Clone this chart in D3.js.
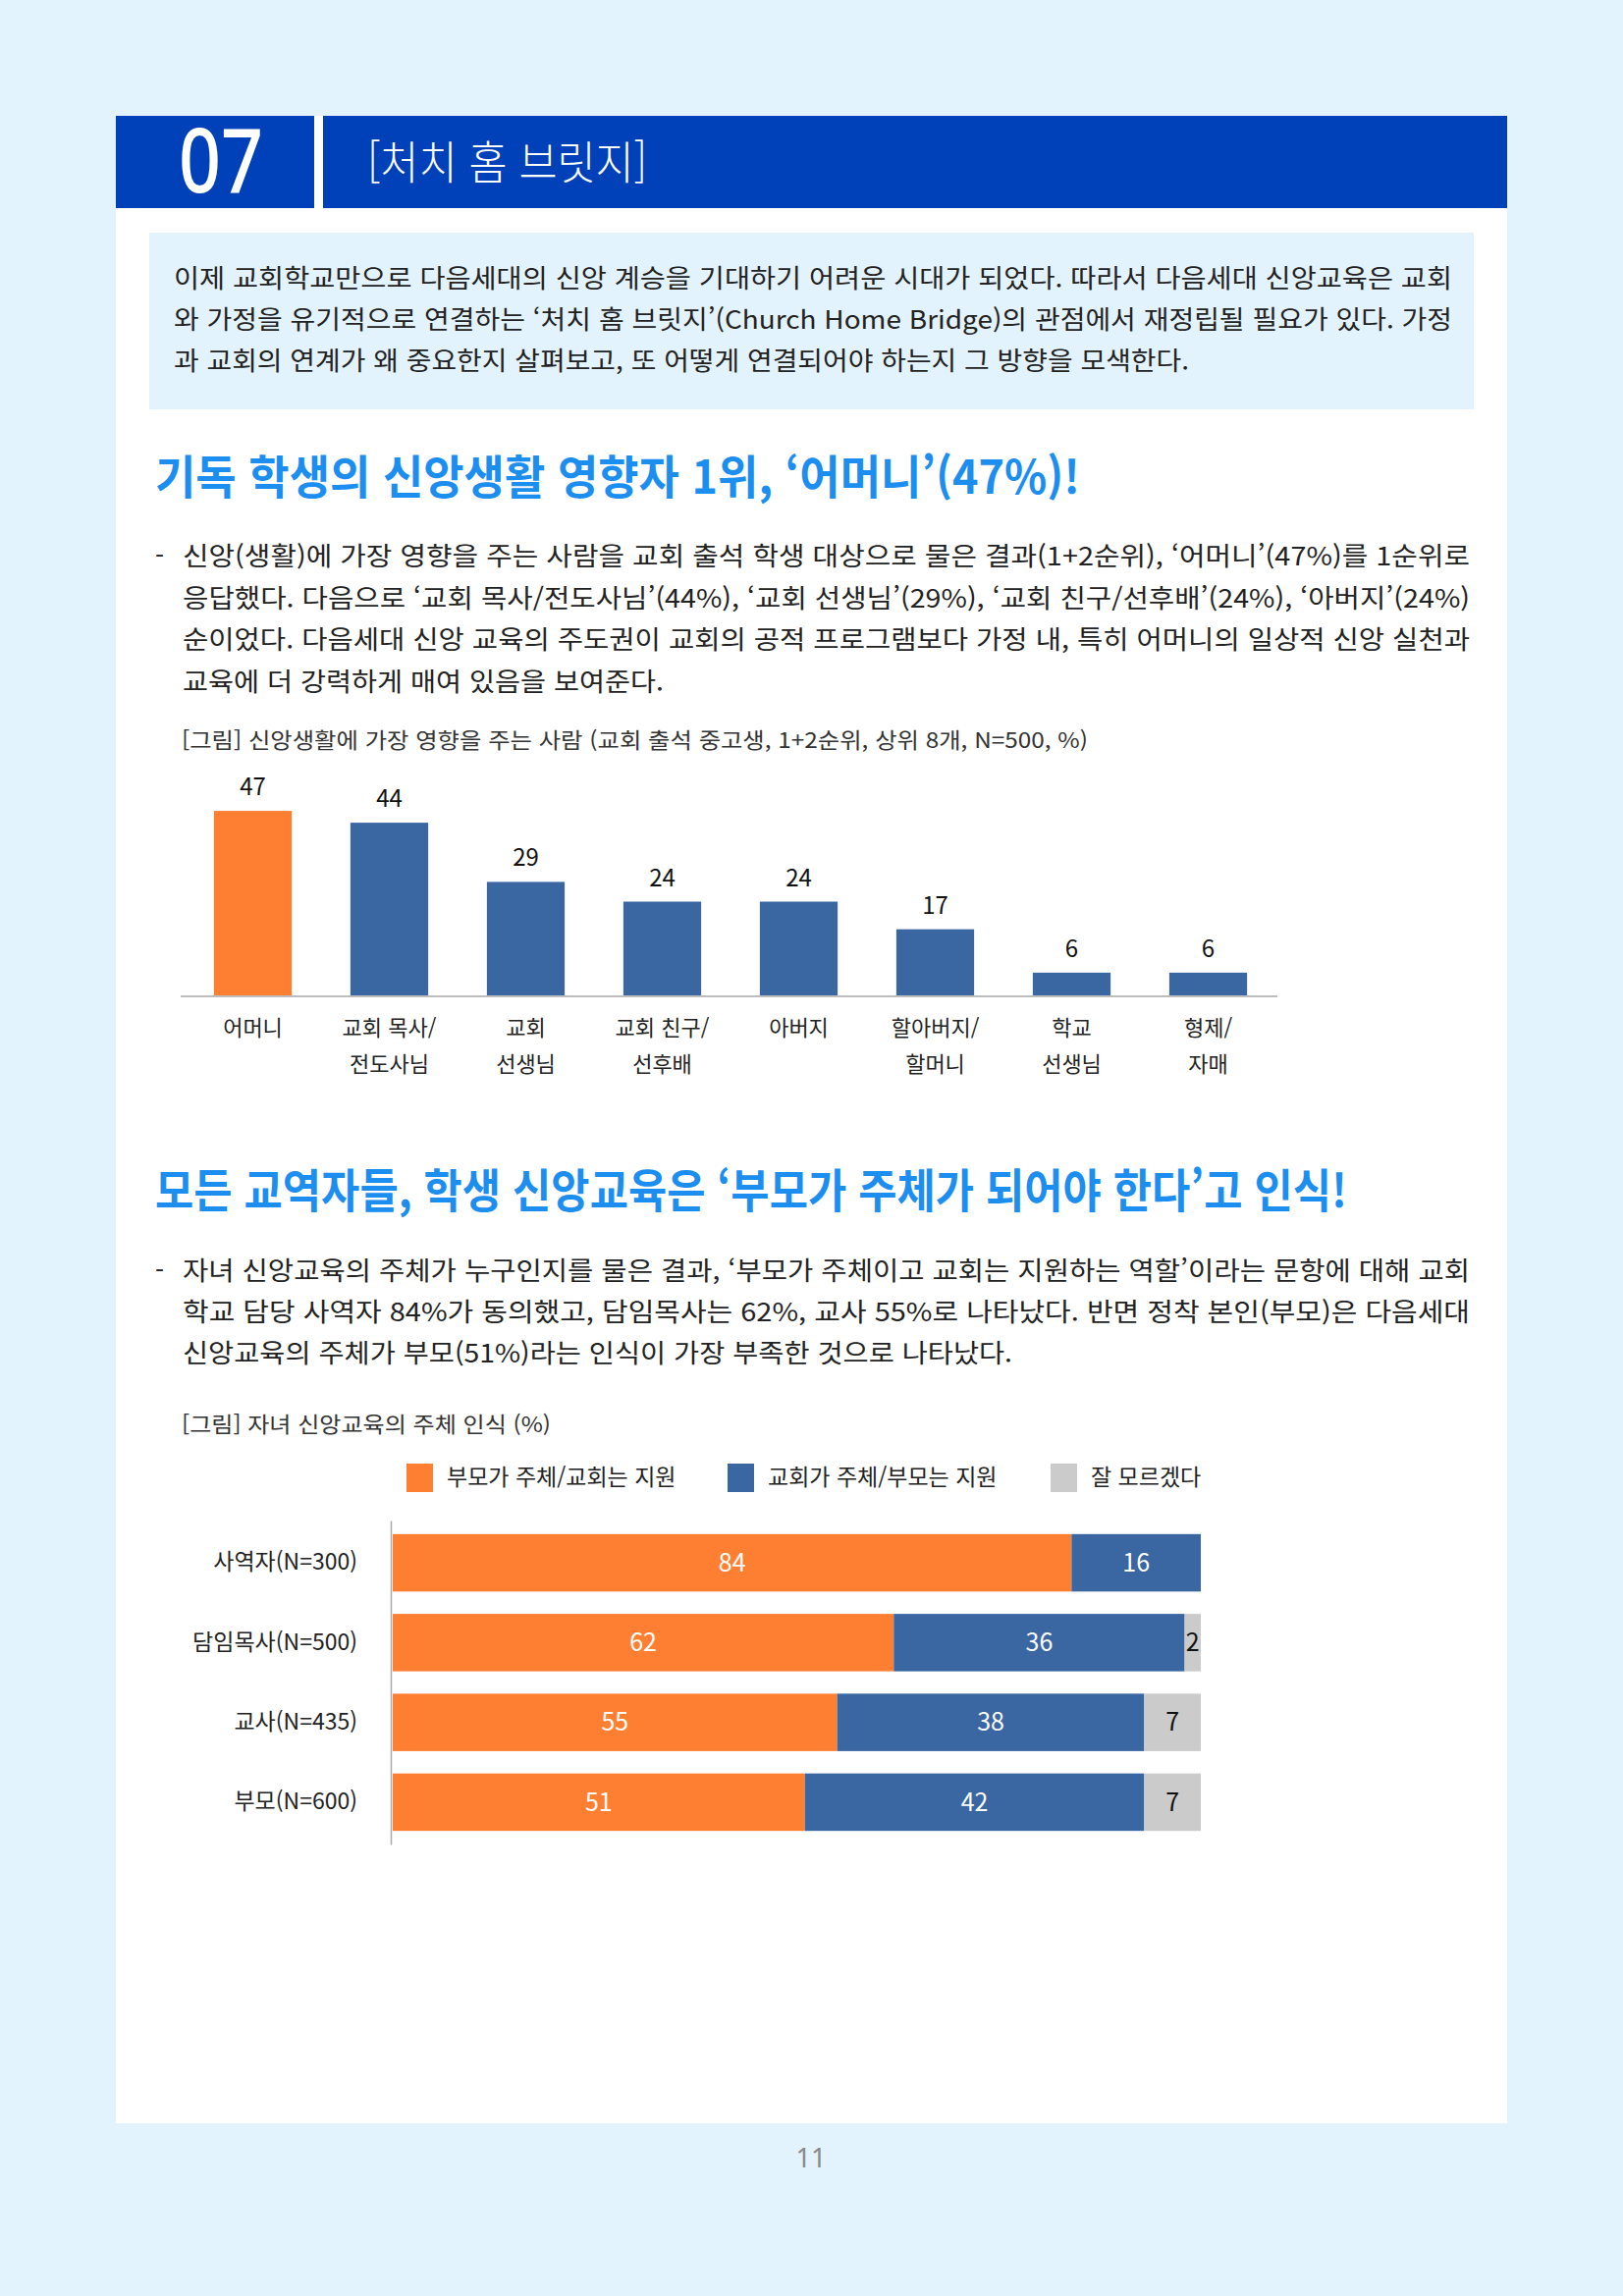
<!DOCTYPE html>
<html lang="ko">
<head>
<meta charset="utf-8">
<script src="https://cdn.jsdelivr.net/npm/d3@7"></script>
<style>
  body { margin: 0; background: #e3f3fd; }
  svg { display: block; font-family: "Noto Sans CJK KR", "Noto Sans", sans-serif; }
</style>
</head>
<body>
<div id="page"></div>
<script>
// chart 1: who influences students' faith life most (1+2 rank, %)
const influencers = ["어머니", "교회 목사/|전도사님", "교회|선생님", "교회 친구/|선후배", "아버지", "할아버지/|할머니", "학교|선생님", "형제/|자매"];
const influenceValues = [47, 44, 29, 24, 24, 17, 6, 6];

// chart 2: who should lead children's faith education (%)
const groups = ["사역자(N=300)", "담임목사(N=500)", "교사(N=435)", "부모(N=600)"];
const seriesNames = ["부모가 주체/교회는 지원", "교회가 주체/부모는 지원", "잘 모르겠다"];
const parentLed = [84, 62, 55, 51];
const churchLed = [16, 36, 38, 42];
const dontKnow = [0, 2, 7, 7];

// page texts
const sectionNo = "07";
const sectionTitle = "[처치 홈 브릿지]";
const introLines = [
    "이제 교회학교만으로 다음세대의 신앙 계승을 기대하기 어려운 시대가 되었다. 따라서 다음세대 신앙교육은 교회",
    "와 가정을 유기적으로 연결하는 ‘처치 홈 브릿지’(Church Home Bridge)의 관점에서 재정립될 필요가 있다. 가정",
    "과 교회의 연계가 왜 중요한지 살펴보고, 또 어떻게 연결되어야 하는지 그 방향을 모색한다."
];
const heading1 = "기독 학생의 신앙생활 영향자 1위, ‘어머니’(47%)!";
const para1Lines = [
    "신앙(생활)에 가장 영향을 주는 사람을 교회 출석 학생 대상으로 물은 결과(1+2순위), ‘어머니’(47%)를 1순위로",
    "응답했다. 다음으로 ‘교회 목사/전도사님’(44%), ‘교회 선생님’(29%), ‘교회 친구/선후배’(24%), ‘아버지’(24%)",
    "순이었다. 다음세대 신앙 교육의 주도권이 교회의 공적 프로그램보다 가정 내, 특히 어머니의 일상적 신앙 실천과",
    "교육에 더 강력하게 매여 있음을 보여준다."
];
const caption1 = "[그림] 신앙생활에 가장 영향을 주는 사람 (교회 출석 중고생, 1+2순위, 상위 8개, N=500, %)";
const heading2 = "모든 교역자들, 학생 신앙교육은 ‘부모가 주체가 되어야 한다’고 인식!";
const para2Lines = [
    "자녀 신앙교육의 주체가 누구인지를 물은 결과, ‘부모가 주체이고 교회는 지원하는 역할’이라는 문항에 대해 교회",
    "학교 담당 사역자 84%가 동의했고, 담임목사는 62%, 교사 55%로 나타났다. 반면 정착 본인(부모)은 다음세대",
    "신앙교육의 주체가 부모(51%)라는 인식이 가장 부족한 것으로 나타났다."
];
const caption2 = "[그림] 자녀 신앙교육의 주체 인식 (%)";
const pageNo = "11";

const width = 1653;
const height = 2339;
const orange = "#ff7f32";
const blue = "#3a66a2";
const grey = "#cbcbcb";
const headBlue = "#1c8eef";

const svg = d3.select("#page")
    .append("svg")
    .attr("width", width)
    .attr("height", height);

//background + white panel
svg.append("rect").attr("width", width).attr("height", height).attr("fill", "#e3f3fd");
svg.append("rect").attr("x", 118).attr("y", 118).attr("width", 1417).attr("height", 2045).attr("fill", "#fff");

// header bar
svg.append("rect").attr("x", 118).attr("y", 118).attr("width", 202).attr("height", 94).attr("fill", "#0040b8");
svg.append("rect").attr("x", 329).attr("y", 118).attr("width", 1206).attr("height", 94).attr("fill", "#0040b8");

// one line of text, squeezed/stretched to a given width when w is set
function line(g, str, x, y, size, opt) {
    opt = opt || {};
    const t = g.append("text")
        .attr("x", x)
        .attr("y", y)
        .attr("font-size", size)
        .attr("font-weight", opt.weight || 400)
        .attr("fill", opt.fill || "#222")
        .attr("text-anchor", opt.anchor || "start")
        .text(str);
    if (opt.w) t.attr("textLength", opt.w).attr("lengthAdjust", "spacingAndGlyphs");
    return t;
}

line(svg, sectionNo, 225, 196, 90, {fill: "#fff", weight: 500, anchor: "middle", w: 86})
    .style("font-family", "'Noto Sans', sans-serif");
line(svg, sectionTitle, 374, 182, 46, {fill: "#fff", weight: 300, w: 285});

// intro box
svg.append("rect").attr("x", 152).attr("y", 237).attr("width", 1349).attr("height", 180).attr("fill", "#e3f3fd");
const introW = [1302, 1302, 1034];
introLines.forEach((s, i) => line(svg, s, 177, 293 + i * 42, 26, {w: introW[i]}));

// section 1 text
line(svg, heading1, 158, 503, 47, {fill: headBlue, weight: 700, w: 942});
line(svg, "-", 158, 576, 26);
const p1W = [1311, 1311, 1311, 490];
para1Lines.forEach((s, i) => line(svg, s, 186, 576 + i * 42.7, 26, {w: p1W[i]}));
line(svg, caption1, 185, 762, 22, {fill: "#333", w: 923});

// ---------- chart 1: vertical bars ----------
const x1 = d3.scaleBand()
    .domain(influencers)
    .range([188, 1300])
    .paddingInner(0.43)
    .paddingOuter(0.215);

const y1 = d3.scaleLinear()
    .domain([0, 50])
    .range([1015, 814]);

const g1 = svg.append("g");

g1.selectAll("rect.bar")
    .data(influenceValues)
    .join("rect")
    .attr("class", "bar")
    .attr("x", (d, i) => x1(influencers[i]))
    .attr("y", d => y1(d))
    .attr("width", x1.bandwidth())
    .attr("height", d => y1(0) - y1(d))
    .attr("fill", (d, i) => i === 0 ? orange : blue);

g1.selectAll("text.val")
    .data(influenceValues)
    .join("text")
    .attr("class", "val")
    .attr("x", (d, i) => x1(influencers[i]) + x1.bandwidth() / 2)
    .attr("y", d => y1(d) - 16)
    .attr("text-anchor", "middle")
    .attr("font-size", 24)
    .attr("fill", "#111")
    .text(d => d);

const ax1 = g1.append("g")
    .attr("transform", "translate(0,1015)")
    .call(d3.axisBottom(x1).tickSize(0).tickSizeOuter(0).tickFormat(""));
ax1.select(".domain").attr("stroke", "#bdbdbd").attr("stroke-width", 2)
    .attr("d", "M184,0H1301");

// two-line category labels
ax1.selectAll(".tick").each(function (d) {
    const t = d3.select(this).select("text")
        .attr("y", 0)
        .attr("dy", null)
        .attr("font-size", 22)
        .attr("fill", "#222")
        .style("font-family", "'Noto Sans CJK KR', sans-serif");
    d.split("|").forEach((part, k) => {
        t.append("tspan").attr("x", 0).attr("y", 40 + k * 37).text(part);
    });
});

// section 2 text
line(svg, heading2, 158, 1230, 47, {fill: headBlue, weight: 700, w: 1214});
line(svg, "-", 158, 1304, 26);
const p2W = [1311, 1311, 845];
para2Lines.forEach((s, i) => line(svg, s, 186, 1304 + i * 42, 26, {w: p2W[i]}));
line(svg, caption2, 185, 1459, 22, {fill: "#333", w: 376});

// ---------- chart 2: stacked horizontal bars ----------
const rows = groups.map((g, i) => ({
    group: g,
    [seriesNames[0]]: parentLed[i],
    [seriesNames[1]]: churchLed[i],
    [seriesNames[2]]: dontKnow[i]
}));
const stacked = d3.stack().keys(seriesNames)(rows);
const colour = d3.scaleOrdinal().domain(seriesNames).range([orange, blue, grey]);

const x2 = d3.scaleLinear().domain([0, 100]).range([400, 1223]);
const y2 = d3.scaleBand()
    .domain(groups)
    .range([1549, 1879])
    .paddingInner(0.28)
    .paddingOuter(0.17);

const g2 = svg.append("g");

const layer = g2.selectAll("g.layer")
    .data(stacked)
    .join("g")
    .attr("class", "layer")
    .attr("fill", d => colour(d.key));

layer.selectAll("rect")
    .data(d => d.filter(s => s[1] - s[0] > 0))
    .join("rect")
    .attr("x", d => x2(d[0]))
    .attr("y", d => y2(d.data.group))
    .attr("width", d => x2(d[1]) - x2(d[0]))
    .attr("height", y2.bandwidth());

layer.selectAll("text")
    .data(d => d.filter(s => s[1] - s[0] > 0).map(s => Object.assign(s, {key: d.key})))
    .join("text")
    .attr("x", d => (x2(d[0]) + x2(d[1])) / 2)
    .attr("y", d => y2(d.data.group) + y2.bandwidth() / 2)
    .attr("dy", "0.35em")
    .attr("text-anchor", "middle")
    .attr("font-size", 25)
    .attr("fill", d => d.key === seriesNames[2] ? "#111" : "#fff")
    .text(d => d[1] - d[0]);

const ax2 = g2.append("g")
    .attr("transform", "translate(398,0)")
    .call(d3.axisLeft(y2).tickSize(0).tickSizeOuter(0).tickPadding(34));
ax2.select(".domain").attr("stroke", "#aaa").attr("stroke-width", 1.5);
ax2.selectAll(".tick text")
    .attr("font-size", 23)
    .attr("fill", "#222")
    .style("font-family", "'Noto Sans CJK KR', sans-serif");

// legend
const legendX = [414, 741, 1070];
const legend = g2.selectAll("g.legend")
    .data(seriesNames)
    .join("g")
    .attr("class", "legend")
    .attr("transform", (d, i) => `translate(${legendX[i]},1491)`);
legend.append("rect").attr("width", 27).attr("height", 29).attr("fill", d => colour(d));
legend.append("text")
    .attr("x", 41)
    .attr("y", 22)
    .attr("font-size", 23)
    .attr("fill", "#222")
    .text(d => d);

// page number
line(svg, pageNo, 826, 2208, 27, {fill: "#888", anchor: "middle"})
    .style("font-family", "'Noto Sans', sans-serif");
</script>
</body>
</html>
